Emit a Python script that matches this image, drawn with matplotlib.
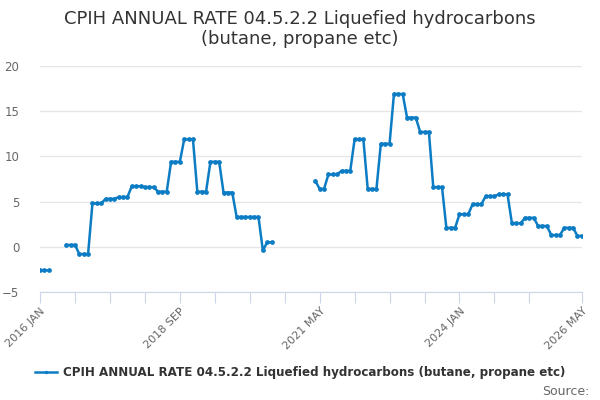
import numpy as np
import matplotlib
matplotlib.use("Agg")
import matplotlib.pyplot as plt

# ---- data: monthly, 2016 JAN .. 2026 MAY (125 months); None = no value ----
n_meses = 125
primer_tramo = (
    [-2.6, -2.6, -2.6, None, None, None,
     0.2, 0.2, 0.2, -0.8, -0.8, -0.8,
     4.8, 4.8, 4.8, 5.3, 5.3, 5.3, 5.5, 5.5, 5.5, 6.7, 6.7, 6.7,
     6.6, 6.6, 6.6, 6.1, 6.1, 6.1, 9.4, 9.4, 9.4, 11.9, 11.9, 11.9,
     6.1, 6.1, 6.1, 9.4, 9.4, 9.4, 6.0, 6.0, 6.0,
     3.3, 3.3, 3.3, 3.3, 3.3, 3.3, -0.4, 0.5, 0.5]
)
segundo_inicio = 63
segundo_tramo = (
    [7.3, 6.4, 6.4, 8.0, 8.0, 8.0, 8.4, 8.4, 8.4,
     11.9, 11.9, 11.9, 6.4, 6.4, 6.4, 11.4, 11.4, 11.4,
     16.9, 16.9, 16.9, 14.3, 14.3, 14.3, 12.7, 12.7, 12.7,
     6.6, 6.6, 6.6, 2.1, 2.1, 2.1, 3.6, 3.6, 3.6,
     4.7, 4.7, 4.7, 5.6, 5.6, 5.6, 5.8, 5.8, 5.8,
     2.6, 2.6, 2.6, 3.2, 3.2, 3.2, 2.3, 2.3, 2.3,
     1.3, 1.3, 1.3, 2.1, 2.1, 2.1, 1.2, 1.2]
)
tick_pos = list(range(0, 113, 8)) + [124]
label_pos = [0, 32, 64, 96, 124]
label_txt = ["2016 JAN", "2018 SEP", "2021 MAY", "2024 JAN", "2026 MAY"]
serie_nombre = "CPIH ANNUAL RATE 04.5.2.2 Liquefied hydrocarbons (butane, propane etc)"

valores = np.full(n_meses, np.nan)
for i, v in enumerate(primer_tramo):
    if v is not None:
        valores[i] = v
for i, v in enumerate(segundo_tramo):
    valores[segundo_inicio + i] = v
meses = np.arange(n_meses)

azul = "#0c7cc4"
fig = plt.figure(figsize=(6, 4), dpi=100)
ax = fig.add_axes([0.0667, 0.27, 0.903, 0.565])

ax.plot(meses, valores, color=azul, linewidth=1.8, marker="o", markersize=2.4,
        label=serie_nombre)

ax.set_xlim(0, 124)
ax.set_ylim(-5, 20)
ax.set_yticks([-5, 0, 5, 10, 15, 20])
ax.yaxis.grid(True, color="#e6e6e6", linewidth=1)
ax.set_axisbelow(True)
ax.tick_params(axis="y", length=0, labelsize=8.5, labelcolor="#666666", pad=15)

ax.set_xticks(tick_pos)
ax.set_xticklabels([label_txt[label_pos.index(p)] if p in label_pos else "" for p in tick_pos],
                   rotation=45, ha="right", rotation_mode="anchor")
ax.tick_params(axis="x", length=8, color="#ccd6eb", labelsize=8, labelcolor="#666666", pad=2)

for s in ["top", "right", "left"]:
    ax.spines[s].set_visible(False)
ax.spines["bottom"].set_color("#ccd6eb")

fig.suptitle("CPIH ANNUAL RATE 04.5.2.2 Liquefied hydrocarbons\n(butane, propane etc)",
             x=0.5, y=0.975, fontsize=13, color="#333333", linespacing=1.15)

leg = fig.legend(loc="center", bbox_to_anchor=(0.5, 0.068), frameon=False,
                 prop={"weight": "bold", "size": 8.6}, handlelength=1.8,
                 markerscale=0.6, handletextpad=0.5)
for t in leg.get_texts():
    t.set_color("#333333")

fig.text(0.982, 0.022, "Source:", ha="right", va="center", fontsize=9, color="#666666")

fig.savefig("out.png", dpi=100)
plt.close(fig)
